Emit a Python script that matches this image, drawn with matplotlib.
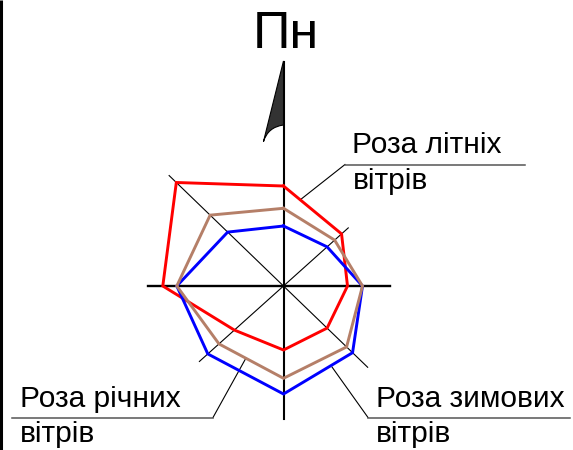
import numpy as np
import matplotlib
matplotlib.use("Agg")
import matplotlib.pyplot as plt
from matplotlib.path import Path
from matplotlib.patches import PathPatch

plt.rcParams["font.family"] = ["Liberation Sans", "DejaVu Sans"]

# wind directions: N, NE, E, SE, S, SW, W, NW (angle from east, degrees)
directions = ["Пн", "ПнСх", "Сх", "ПдСх", "Пд", "ПдЗх", "Зх", "ПнЗх"]
angles = [90, 41.9, 0, -44, -90, -138.1, 180, 136]

summer = [100, 78, 64, 60.6, 64, 66, 120.7, 149]
annual = [77.7, 68.7, 79, 87.7, 92.3, 86.7, 106.7, 102]
winter = [60, 58.6, 79, 96, 108, 101.7, 106.7, 77.6]

main_axis_len = {"up": 224, "down": 133, "right": 106, "left": 136}
diag_len = [87, 117, 113, 159]  # NE, SE, SW, NW
diag_ang = [41.9, -44, -138.1, 136]

CX, CY = 283.5, 286


def to_xy(radii, angs):
    a = np.radians(angs)
    return CX + np.array(radii) * np.cos(a), CY - np.array(radii) * np.sin(a)


def rose(ax, radii, color, z):
    x, y = to_xy(radii + radii[:1], angles + angles[:1])
    ax.plot(x, y, color=color, lw=2.1, solid_joinstyle="miter", zorder=z)


fig = plt.figure(figsize=(5.73, 4.5), dpi=100)
ax = fig.add_axes([0, 0, 1, 1])
ax.set_xlim(0, 573)
ax.set_ylim(450, 0)
ax.axis("off")

# left border
ax.plot([1.2, 1.2], [0, 450], color="black", lw=2.2, solid_capstyle="butt")

# compass axes
ax.plot([CX, CX], [CY - main_axis_len["up"], CY + main_axis_len["down"]], color="black", lw=1.5, zorder=1)
ax.plot([CX - main_axis_len["left"], CX + main_axis_len["right"]], [CY, CY], color="black", lw=1.7, zorder=1)
for r, a in zip(diag_len, diag_ang):
    x, y = to_xy([0, r], [a, a])
    ax.plot(x, y, color="black", lw=0.8, zorder=1)

# north flag
flag = Path([(283.5, 61), (263.5, 141.5), (268, 127), (283.5, 125), (283.5, 61)],
            [Path.MOVETO, Path.LINETO, Path.CURVE3, Path.CURVE3, Path.CLOSEPOLY])
ax.add_patch(PathPatch(flag, facecolor="#333333", edgecolor="black", lw=0.8, zorder=2))

rose(ax, summer, "#ff0000", 3)
rose(ax, annual, "#b57f68", 4)
rose(ax, winter, "#0000ff", 3.5)

# leaders
ax.plot([300, 345], [200, 164.5], color="black", lw=0.8)
ax.plot([345, 525], [164.5, 164.5], color="#555555", lw=1.1)
ax.plot([246, 213], [358, 417.5], color="black", lw=0.8)
ax.plot([213, 12], [417.5, 417.5], color="#555555", lw=1.1)
ax.plot([332, 368], [367, 417.5], color="black", lw=0.8)
ax.plot([368, 570], [417.5, 417.5], color="#555555", lw=1.1)

fs = 21.5
ax.text(252.5, 48, "Пн", fontsize=37.5, va="baseline", ha="left")
ax.text(352.5, 153, "Роза літніх", fontsize=fs, va="baseline", ha="left")
ax.text(353, 189, "вітрів", fontsize=fs, va="baseline", ha="left")
ax.text(19.5, 407, "Роза річних", fontsize=fs, va="baseline", ha="left")
ax.text(20, 442, "вітрів", fontsize=fs, va="baseline", ha="left")
ax.text(375.5, 407, "Роза зимових", fontsize=fs, va="baseline", ha="left")
ax.text(376, 442, "вітрів", fontsize=fs, va="baseline", ha="left")

fig.savefig("out.png", dpi=100)
